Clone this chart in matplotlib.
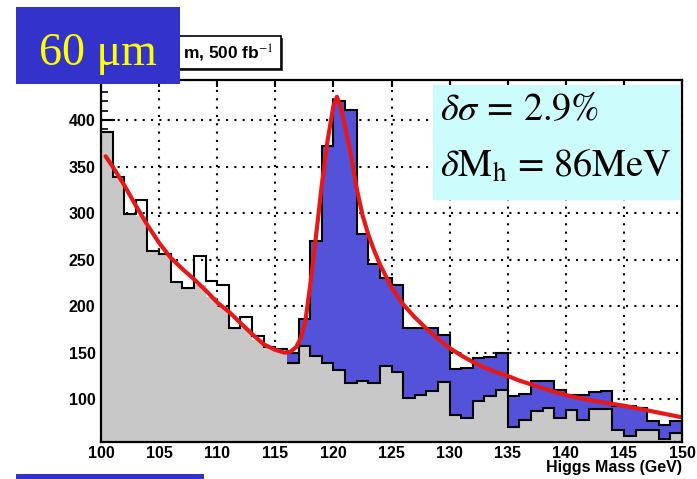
import numpy as np
import matplotlib.pyplot as plt
from matplotlib.patches import Rectangle

# 1 GeV bins from 100 to 150
bin_edges = list(range(100, 151))

# signal + background (black outline)
total = [387, 339, 299, 314, 259, 256, 226, 219, 254, 227,
         223, 177, 188, 168, 156, 154, 150, 186, 270, 372,
         420, 411, 277, 245, 230, 223, 176, 176, 176, 169,
         132, 133, 144, 145, 150, 103, 106, 120, 120, 110,
         104, 104, 108, 109, 93, 93, 91, 77, 72, 77]

# background (grey)
background = [387, 339, 299, 297, 259, 256, 226, 219, 223, 210,
              199, 176, 176, 164, 156, 152, 139, 157, 146, 139,
              131, 117, 120, 117, 136, 129, 101, 105, 109, 118,
              83, 80, 98, 103, 110, 70, 78, 87, 91, 80,
              88, 78, 89, 89, 67, 60, 67, 67, 57, 64]

# fitted curve (red)
fit_mass = [100.4, 101, 102, 103, 104, 105, 106, 107, 108, 109, 110, 111, 112,
            113, 114, 115, 115.8, 116.3, 116.8, 117.2, 117.6, 118.0, 118.5,
            119.0, 119.5, 120.0, 120.3, 120.6, 121.0, 121.5, 122.0, 122.5,
            123.0, 123.5, 124, 125, 126, 127, 128, 129, 130, 131, 132, 133,
            134, 135, 136, 137, 138, 139, 140, 142, 144, 145, 146, 147, 148,
            149, 150]
fit_value = [361, 350, 330, 308, 287, 268, 252, 240, 229, 217, 204, 194, 182,
             170, 159, 153, 150, 151, 156, 166, 185, 222, 275,
             330, 378, 415, 425, 415, 393, 363, 327, 298,
             277, 260, 245, 220, 202, 188, 176, 165, 155, 147, 140, 134,
             129, 125, 120, 116, 112, 108, 104.5, 99, 95, 93, 90.5, 88, 85.5,
             83, 80.5]

signal_start = 16  # first bin with visible signal (116 GeV)

edges = np.array(bin_edges)
tot = np.array(total, dtype=float)
bkg = np.array(background, dtype=float)

plt.rcParams['mathtext.fontset'] = 'stix'

W, H = 697, 479
fig = plt.figure(figsize=(W / 100, H / 100), dpi=100)
ax = fig.add_axes([101 / W, 1 - 442 / H, 581 / W, 362 / H])

y0 = 54
ax.fill_between(edges, y0, np.append(bkg, bkg[-1]), step='post',
                color='#c8c8c8', lw=0, zorder=2)
ax.fill_between(edges[signal_start:], np.append(bkg[signal_start:], bkg[-1]),
                np.append(tot[signal_start:], tot[-1]), step='post',
                color='#5552da', lw=0, zorder=2)
ax.stairs(tot, edges, baseline=None, color='black', lw=1.5, zorder=3)
ax.stairs(bkg[signal_start:], edges[signal_start:], baseline=None,
          color='black', lw=1.5, zorder=3)
ax.plot(fit_mass, fit_value, color='#e61919', lw=3, zorder=4,
        solid_capstyle='round')

ax.set_xlim(100, 150)
ax.set_ylim(y0, 443)
ax.set_xticks(range(100, 151, 5))
ax.set_yticks(range(100, 401, 50))
ax.set_yticks(range(60, 441, 10), minor=True)
ax.set_axisbelow(True)
ax.grid(True, color='black', linestyle=(0, (1, 3)), lw=1.5)
ax.tick_params(axis='y', which='major', direction='in', length=10,
               width=1.5, pad=4)
ax.tick_params(axis='y', which='minor', direction='in', length=5, width=1.2)
ax.tick_params(axis='x', which='major', direction='in', length=5,
               width=1.5, top=True, pad=3)
for lab in ax.get_xticklabels() + ax.get_yticklabels():
    lab.set_fontfamily('Liberation Sans')
    lab.set_fontweight('bold')
    lab.set_fontsize(11.5)
for sp in ax.spines.values():
    sp.set_linewidth(1.6)
    sp.set_zorder(5)

fig.text(682 / W, 1 - 460 / H, 'Higgs Mass (GeV)', ha='right', va='top',
         family='Liberation Sans', weight='bold', fontsize=11.5)

# title box, partly covered
fig.patches.append(Rectangle((122 / W, 1 - 71 / H), 161 / W, 33 / H,
                             transform=fig.transFigure, facecolor='#444444',
                             edgecolor='none', zorder=5))
fig.patches.append(Rectangle((120 / W, 1 - 69 / H), 161 / W, 33 / H,
                             transform=fig.transFigure, facecolor='white',
                             edgecolor='black', lw=1.2, zorder=6))
fig.text(274 / W, 1 - 53 / H, 'm, 500 fb$^{-1}$', ha='right', va='center',
         family='Liberation Sans', weight='bold', fontsize=12.5, zorder=7)

# blue label box
fig.patches.append(Rectangle((16 / W, 1 - 84 / H), 164 / W, 77 / H,
                             transform=fig.transFigure, facecolor='#3333cc',
                             edgecolor='none', zorder=8))
fig.text(98 / W, 1 - 65 / H, '60 μm', ha='center', va='baseline',
         family='Liberation Serif', fontsize=33, color='#ffff00', zorder=9)

# result box
fig.patches.append(Rectangle((433 / W, 1 - 200 / H), 247 / W, 115 / H,
                             transform=fig.transFigure, facecolor='#ccfcfc',
                             edgecolor='none', zorder=8))
fig.text(440 / W, 1 - 120 / H, r'$\delta\sigma\,=\,2.9\%$', ha='left',
         va='baseline', fontsize=27.5, zorder=9)
fig.text(440 / W, 1 - 177 / H,
         r'$\delta\mathrm{M}_\mathrm{h}\,=\,86\mathrm{MeV}$',
         ha='left', va='baseline', fontsize=27.5, zorder=9)

# blue bar at the bottom
fig.patches.append(Rectangle((16 / W, 0), 188 / W, 5 / H,
                             transform=fig.transFigure, facecolor='#3333cc',
                             edgecolor='none', zorder=8))

fig.savefig('out.png', dpi=100)
